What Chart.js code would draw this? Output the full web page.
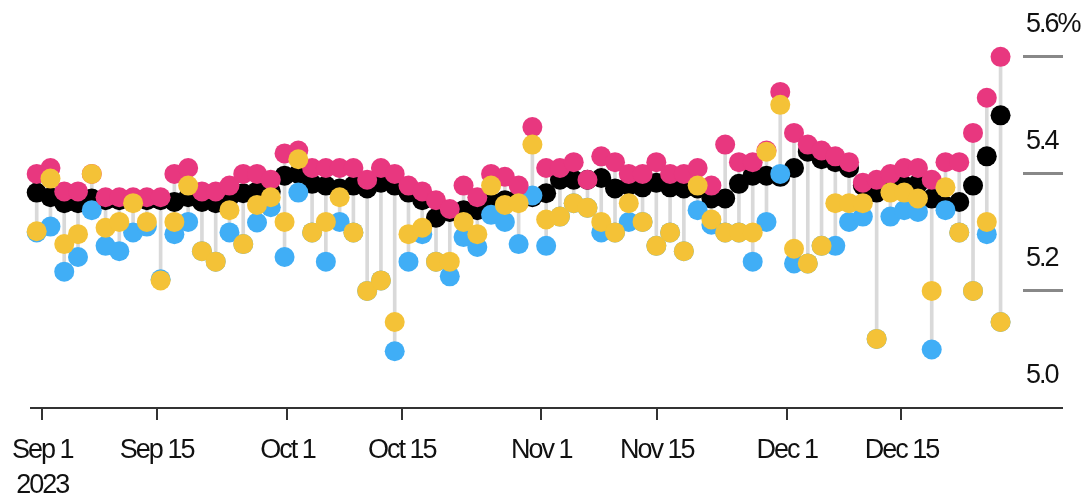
<!DOCTYPE html>
<html lang="en">
<head>
<meta charset="UTF-8">
<title>Daily readings, Sep - Dec 2023</title>
<script src="https://cdn.jsdelivr.net/npm/chart.js"></script>
<style>
    html, body {
        margin: 0;
        padding: 0;
        background: #fff;
    }
    #wrap {
        width: 1088px;
        height: 498px;
        position: relative;
    }
</style>
</head>
<body>
<div id="wrap"><canvas id="dotChart"></canvas></div>
<script>
    // one value per column, left to right (percent)
    const pinkValues = [5.40, 5.41, 5.37, 5.37, 5.40, 5.36, 5.36, 5.36, 5.36, 5.36,
        5.40, 5.41, 5.37, 5.37, 5.38, 5.40, 5.40, 5.39, 5.435, 5.44,
        5.41, 5.41, 5.41, 5.41, 5.39, 5.41, 5.40, 5.38, 5.37, 5.355,
        5.34, 5.38, 5.36, 5.40, 5.395, 5.38, 5.48, 5.41, 5.41, 5.42,
        5.39, 5.43, 5.42, 5.40, 5.40, 5.42, 5.40, 5.40, 5.41, 5.38,
        5.45, 5.42, 5.42, 5.44, 5.54, 5.47, 5.45, 5.44, 5.43, 5.42,
        5.385, 5.39, 5.40, 5.41, 5.41, 5.39, 5.42, 5.42, 5.47, 5.53, 5.60];
    const blackValues = [5.368, 5.36, 5.35, 5.35, 5.358, 5.355, 5.355, 5.355, 5.355, 5.355,
        5.352, 5.36, 5.352, 5.35, 5.36, 5.367, 5.37, 5.37, 5.397, 5.40,
        5.383, 5.38, 5.375, 5.38, 5.375, 5.385, 5.38, 5.368, 5.355, 5.325,
        5.335, 5.338, 5.338, 5.352, 5.355, 5.36, 5.36, 5.367, 5.39, 5.39,
        5.39, 5.393, 5.375, 5.38, 5.377, 5.385, 5.377, 5.375, 5.375, 5.358,
        5.358, 5.383, 5.397, 5.397, 5.395, 5.41, 5.438, 5.425, 5.42, 5.41,
        5.38, 5.368, 5.375, 5.38, 5.383, 5.358, 5.345, 5.352, 5.38, 5.43, 5.50];
    const yellowValues = [5.302, 5.392, 5.28, 5.297, 5.40, 5.308, 5.318, 5.35, 5.318, 5.218,
        5.318, 5.38, 5.268, 5.25, 5.338, 5.28, 5.347, 5.36, 5.318, 5.425,
        5.30, 5.318, 5.36, 5.30, 5.20, 5.218, 5.147, 5.297, 5.308, 5.25,
        5.25, 5.318, 5.297, 5.38, 5.347, 5.35, 5.45, 5.322, 5.327, 5.35,
        5.342, 5.318, 5.30, 5.35, 5.318, 5.277, 5.30, 5.268, 5.38, 5.322,
        5.30, 5.30, 5.30, 5.438, 5.518, 5.272, 5.247, 5.277, 5.35, 5.35,
        5.35, 5.118, 5.368, 5.368, 5.358, 5.20, 5.377, 5.30, 5.20, 5.318, 5.147];
    const blueValues = [5.30, 5.31, 5.233, 5.258, 5.338, 5.277, 5.268, 5.30, 5.31, 5.22,
        5.297, 5.318, 5.268, 5.25, 5.30, 5.28, 5.317, 5.343, 5.258, 5.368,
        5.30, 5.25, 5.318, 5.30, 5.20, 5.218, 5.097, 5.25, 5.297, 5.25,
        5.225, 5.292, 5.275, 5.33, 5.318, 5.28, 5.363, 5.277, 5.327, 5.35,
        5.342, 5.30, 5.30, 5.318, 5.318, 5.277, 5.30, 5.268, 5.338, 5.313,
        5.30, 5.30, 5.25, 5.318, 5.40, 5.247, 5.247, 5.277, 5.277, 5.318,
        5.327, 5.118, 5.327, 5.338, 5.335, 5.10, 5.338, 5.30, 5.20, 5.297, 5.147];

    // date ticks, placed in column units
    const tickLabels = [['Sep 1', '2023'], 'Sep 15', 'Oct 1', 'Oct 15', 'Nov 1', 'Nov 15', 'Dec 1', 'Dec 15'];
    const tickAt = [0.41, 8.71, 18.21, 26.52, 36.65, 45.03, 54.48, 62.80];
    const yTicks = [5.0, 5.2, 5.4, 5.6];

    const FONT = "'Liberation Sans Narrow', 'Arial Narrow', 'Liberation Sans', sans-serif";

    const pts = arr => arr.map((v, i) => ({ x: i, y: v }));
    const ranges = pinkValues.map((v, i) => {
        const col = [v, blackValues[i], yellowValues[i], blueValues[i]];
        return { x: i, y: [Math.min(...col), Math.max(...col)] };
    });

    function dotSet(label, values, color, order) {
        return {
            type: 'line',
            label: label,
            data: pts(values),
            showLine: false,
            pointRadius: 10,
            pointHoverRadius: 10,
            pointBorderWidth: 0,
            pointBackgroundColor: color,
            borderColor: color,
            clip: false,
            order: order
        };
    }

    // tighter letters, the labels in the original are set in a condensed face
    const tightText = {
        id: 'tightText',
        beforeDraw: chart => { chart.ctx.letterSpacing = '-2px'; }
    };

    new Chart(document.getElementById('dotChart'), {
        type: 'bar',
        data: {
            datasets: [
                dotSet('High', pinkValues, '#e8377f', 2),
                dotSet('Median', blackValues, '#000000', 4),
                dotSet('Alt', yellowValues, '#f4c237', 1),
                dotSet('Low', blueValues, '#40aef6', 3),
                {
                    type: 'bar',
                    label: 'Range',
                    data: ranges,
                    backgroundColor: '#d9d9d9',
                    barThickness: 3,
                    order: 5
                }
            ]
        },
        plugins: [tightText],
        options: {
            responsive: true,
            maintainAspectRatio: false,
            animation: false,
            layout: { padding: { left: 31, top: 0, right: 0, bottom: 0 } },
            plugins: {
                legend: { display: false },
                tooltip: { enabled: false }
            },
            scales: {
                x: {
                    type: 'linear',
                    offset: false,
                    min: -0.414,
                    max: 71.63,
                    afterBuildTicks: scale => {
                        scale.ticks = tickAt.map(v => ({ value: v }));
                    },
                    afterFit: scale => {
                        scale.height = 90;
                        scale.paddingLeft = 0;
                        scale.paddingRight = 0;
                    },
                    border: { display: true, color: '#333', width: 2 },
                    grid: {
                        offset: false,
                        drawOnChartArea: false,
                        drawTicks: true,
                        tickLength: 12,
                        color: '#333',
                        lineWidth: 2
                    },
                    ticks: {
                        autoSkip: false,
                        maxRotation: 0,
                        padding: 13,
                        color: '#111',
                        font: { family: FONT, size: 27, lineHeight: 1.3 },
                        callback: (value, index) => tickLabels[index]
                    }
                },
                y: {
                    position: 'right',
                    min: 5.0,
                    max: 5.68,
                    afterBuildTicks: scale => {
                        scale.ticks = yTicks.map(v => ({ value: v }));
                    },
                    afterFit: scale => { scale.width = 65; },
                    border: { display: false },
                    grid: {
                        drawOnChartArea: false,
                        drawTicks: true,
                        tickLength: 40,
                        color: ctx => ctx.tick && ctx.tick.value === 5.0 ? '#333' : '#888',
                        lineWidth: ctx => ctx.tick && ctx.tick.value === 5.0 ? 2 : 3
                    },
                    ticks: {
                        padding: -37,
                        labelOffset: -32,
                        color: '#111',
                        font: { family: FONT, size: 27 },
                        callback: v => v === 5.6 ? '5.6%' : v.toFixed(1)
                    }
                }
            }
        }
    });
</script>
</body>
</html>
